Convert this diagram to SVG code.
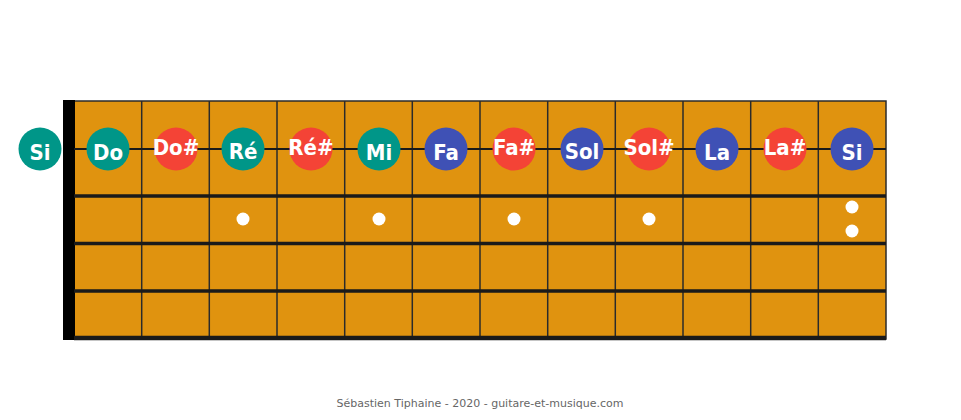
<svg xmlns="http://www.w3.org/2000/svg" width="961" height="420" viewBox="0 0 961 420">
<style>
.fret{stroke:#2b2b2b;stroke-width:1.5}
.str{stroke:#1a1a1a;stroke-width:3.5}
.n text{font-family:"DejaVu Sans Condensed","DejaVu Sans",sans-serif;font-stretch:condensed;font-weight:bold;font-size:22px;fill:#fff;text-anchor:middle}
.t{fill:#009688}.r{fill:#F44336}.b{fill:#3F51B5}
.dot{fill:#fff}
</style>
<rect x="0" y="0" width="961" height="420" fill="#fff"/>
<g id="board">
<rect x="74" y="101" width="812" height="238" fill="#E0930F" stroke="#2b2b2b" stroke-width="1.5"/>
<rect x="63" y="100" width="12" height="240" fill="#000"/>
</g>
<g id="frets">
<line class="fret" x1="141.7" y1="101" x2="141.7" y2="338"/>
<line class="fret" x1="209.3" y1="101" x2="209.3" y2="338"/>
<line class="fret" x1="277" y1="101" x2="277" y2="338"/>
<line class="fret" x1="344.7" y1="101" x2="344.7" y2="338"/>
<line class="fret" x1="412.3" y1="101" x2="412.3" y2="338"/>
<line class="fret" x1="480" y1="101" x2="480" y2="338"/>
<line class="fret" x1="547.7" y1="101" x2="547.7" y2="338"/>
<line class="fret" x1="615.3" y1="101" x2="615.3" y2="338"/>
<line class="fret" x1="683" y1="101" x2="683" y2="338"/>
<line class="fret" x1="750.7" y1="101" x2="750.7" y2="338"/>
<line class="fret" x1="818.3" y1="101" x2="818.3" y2="338"/>
</g>
<g id="strings">
<line x1="74" y1="149" x2="886" y2="149" stroke="#1a1a1a" stroke-width="2"/>
<line class="str" x1="74" y1="196" x2="886" y2="196"/>
<line class="str" x1="74" y1="243.5" x2="886" y2="243.5"/>
<line class="str" x1="74" y1="291" x2="886" y2="291"/>
<line x1="74" y1="338" x2="886" y2="338" stroke="#1a1a1a" stroke-width="4.5"/>
</g>
<g id="markers">
<circle class="dot" cx="243" cy="219" r="6.5"/>
<circle class="dot" cx="379" cy="219" r="6.5"/>
<circle class="dot" cx="514" cy="219" r="6.5"/>
<circle class="dot" cx="649" cy="219" r="6.5"/>
<circle class="dot" cx="852" cy="207" r="6.5"/>
<circle class="dot" cx="852" cy="231" r="6.5"/>
</g>
<g id="open-si" class="n"><circle class="t" cx="40" cy="149" r="21.5"/><text x="40" y="159.5">Si</text></g>
<g id="n1" class="n"><circle class="t" cx="108" cy="149" r="21.5"/><text x="108" y="159.5">Do</text></g>
<g id="n2" class="n"><circle class="r" cx="176" cy="149" r="21.5"/><text x="176" y="155">Do#</text></g>
<g id="n3" class="n"><circle class="t" cx="243" cy="149" r="21.5"/><text x="243" y="158.5">Ré</text></g>
<g id="n4" class="n"><circle class="r" cx="311" cy="149" r="21.5"/><text x="311" y="155">Ré#</text></g>
<g id="n5" class="n"><circle class="t" cx="379" cy="149" r="21.5"/><text x="379" y="159.5">Mi</text></g>
<g id="n6" class="n"><circle class="b" cx="446" cy="149" r="21.5"/><text x="446" y="159.5">Fa</text></g>
<g id="n7" class="n"><circle class="r" cx="514" cy="149" r="21.5"/><text x="514" y="155">Fa#</text></g>
<g id="n8" class="n"><circle class="b" cx="582" cy="149" r="21.5"/><text x="582" y="158.5">Sol</text></g>
<g id="n9" class="n"><circle class="r" cx="649" cy="149" r="21.5"/><text x="649" y="155">Sol#</text></g>
<g id="n10" class="n"><circle class="b" cx="717" cy="149" r="21.5"/><text x="717" y="159.5">La</text></g>
<g id="n11" class="n"><circle class="r" cx="785" cy="149" r="21.5"/><text x="785" y="155">La#</text></g>
<g id="n12" class="n"><circle class="b" cx="852" cy="149" r="21.5"/><text x="852" y="159.5">Si</text></g>
<text x="480" y="407" font-family="DejaVu Sans, sans-serif" font-size="11" fill="#666" text-anchor="middle">Sébastien Tiphaine - 2020 - guitare-et-musique.com</text>
</svg>
